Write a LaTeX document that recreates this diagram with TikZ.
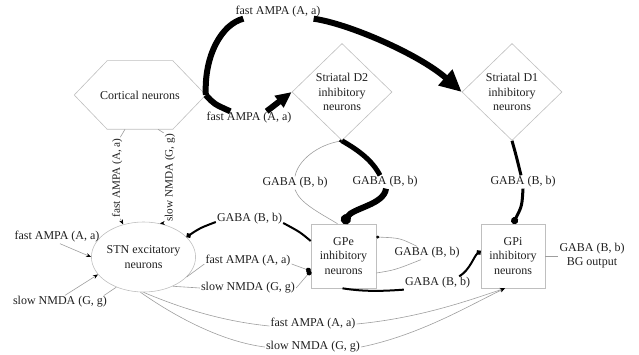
\documentclass[tikz,border=0pt]{standalone}
\usepackage{fontspec}
\setmainfont{Liberation Serif}
\usetikzlibrary{arrows.meta,shapes.geometric}
\definecolor{boxGray}{gray}{0.75}
\definecolor{lineGray}{gray}{0.62}
\definecolor{textGray}{gray}{0.12}
\tikzset{
	unit/.style={draw=boxGray, line width=0.6pt, text=textGray, align=center, inner sep=0pt, font=\fontsize{12}{14.5}\selectfont},
	lbl/.style={text=textGray, inner sep=1pt, align=center, font=\fontsize{12}{14}\selectfont},
	sidelbl/.style={lbl, rotate=90, font=\fontsize{11.2}{13}\selectfont},
	thinline/.style={draw=lineGray, line width=0.6pt},
	heavy/.style={line width=6pt},
	medium/.style={line width=2pt},
	exc/.style={-{Stealth[length=5pt,width=4pt,color=black]}},
	inh/.style={-{Circle[length=#1,color=black]}},
	inh/.default=4pt
}

\begin{document}
\begin{tikzpicture}[x=1pt,y=-1pt]
	\useasboundingbox (0,0) rectangle (639,355);

	% Populations
	\node[unit, draw=none, minimum width=131pt, minimum height=68pt] (ctx) at (140,95) {Cortical neurons};
	\draw[draw=boxGray, line width=0.6pt] (ctx.west) -- ([xshift=33pt]ctx.north west) -- ([xshift=-33pt]ctx.north east) -- (ctx.east) -- ([xshift=-33pt]ctx.south east) -- ([xshift=33pt]ctx.south west) -- cycle;
	\node[unit, diamond, minimum width=100pt, minimum height=97pt] (dtwo) at (342,92) {Striatal D2\\inhibitory\\neurons};
	\node[unit, diamond, minimum width=100pt, minimum height=97pt] (done) at (512,92) {Striatal D1\\inhibitory\\neurons};
	\node[unit, ellipse, minimum width=97pt, minimum height=70pt] (stn) at (143.5,257) {STN excitatory\\neurons};
	\node[unit, minimum width=65pt, minimum height=64pt] (gpe) at (343.5,256) {GPe\\inhibitory\\neurons};
	\node[unit, minimum width=64pt, minimum height=64pt] (gpi) at (513,256) {GPi\\inhibitory\\neurons};

	% Synapse labels
	\node[lbl] (ampaTop) at (278,12) {fast AMPA (A, a)};
	\node[lbl] (ampaMid) at (249,118) {fast AMPA (A, a)};
	\node[sidelbl] (ampaCtx) at (117,178) {fast AMPA (A, a)};
	\node[sidelbl] (nmdaCtx) at (170,178) {slow NMDA (G, g)};
	\node[lbl] (gabaDtwo) at (385,182) {GABA (B, b)};
	\node[lbl] (gabaBack) at (295,183) {GABA (B, b)};
	\node[lbl] (gabaDone) at (523,182) {GABA (B, b)};
	\node[lbl] (gabaStn) at (249.5,219) {GABA (B, b)};
	\node[lbl] (ampaGpe) at (248,261) {fast AMPA (A, a)};
	\node[lbl] (nmdaGpe) at (248,288) {slow NMDA (G, g)};
	\node[lbl] (gabaSelf) at (427,253) {GABA (B, b)};
	\node[lbl] (gabaGpi) at (437.5,283) {GABA (B, b)};
	\node[lbl] (ampaGpi) at (313,324) {fast AMPA (A, a)};
	\node[lbl] (nmdaGpi) at (313,347) {slow NMDA (G, g)};
	\node[lbl] (ampaIn) at (57,237) {fast AMPA (A, a)};
	\node[lbl] (nmdaIn) at (60,302) {slow NMDA (G, g)};
	\node[lbl] (gabaOut) at (592,256) {GABA (B, b)\\BG output};

	% Cortex to striatum
	\draw[heavy] (ctx.east) .. controls (204,55) and (222,24) .. ([xshift=9pt]ampaTop.south west);
	\draw[heavy, -{Triangle[length=22pt,width=20pt]}] ([xshift=-8pt]ampaTop.south east) .. controls (350,24) and (420,55) .. (done.west);
	\draw[heavy] (ctx.east) .. controls (214,104) .. ([xshift=25pt]ampaMid.north west);
	\draw[heavy, -{Triangle[length=16pt,width=14pt]}] ([xshift=-26pt]ampaMid.north east) -- (dtwo.west);

	% Cortex to STN
	\draw[thinline] ([xshift=-15pt]ctx.south) -- ([xshift=-3pt]ampaCtx.south east);
	\draw[thinline, exc] ([xshift=-3pt]ampaCtx.south west) -- (stn.122);
	\draw[thinline] ([xshift=18pt]ctx.south) -- (nmdaCtx.north east);
	\draw[thinline, exc] (nmdaCtx.north west) -- (stn.64);

	% Striatum to pallidum
	\draw[line width=5pt] (dtwo.south) .. controls (358,150) and (372,160) .. ([xshift=-5pt]gabaDtwo.north);
	\draw[heavy, inh=10pt] ([xshift=1pt]gabaDtwo.south) .. controls (384,205) and (352,208) .. (gpe.north);
	\draw[thinline] ([xshift=-6pt]gpe.north) .. controls (318,212) and (300,203) .. (gabaBack.south);
	\draw[thinline, inh=3pt] (gabaBack.north) .. controls (298,160) and (318,145) .. (dtwo.south);
	\draw[line width=3pt] (done.south) .. controls (516,155) .. ([xshift=-2pt]gabaDone.north);
	\draw[line width=3pt, inh=7pt] (gabaDone.south) .. controls (522,206) .. (gpi.north);

	% STN and GPe
	\draw[medium] ([yshift=15pt]gpe.west) .. controls (300,232) .. ([yshift=-4pt]gabaStn.east);
	\draw[medium, inh=5pt] ([yshift=-3pt]gabaStn.west) .. controls (200,228) .. (stn.25);
	\draw[thinline] (stn.-25) -- ([yshift=-3pt]ampaGpe.west);
	\draw[thinline, inh=5pt] ([yshift=-3pt]ampaGpe.east) -- ([yshift=-15pt]gpe.west);
	\draw[thinline] (stn.-45) -- (nmdaGpe.west);
	\draw[thinline, inh=5pt] (nmdaGpe.east) -- ([yshift=-15pt]gpe.west);
	\draw[thinline] ([yshift=-17pt]gpe.east) .. controls (395,270) .. ([xshift=-6pt]gabaSelf.south);
	\draw[thinline, inh=3pt] ([xshift=-10pt]gabaSelf.north) .. controls (400,238) .. ([yshift=19pt]gpe.east);

	% Towards GPi
	\draw[medium] ([xshift=-1pt]gpe.south) .. controls (365,292) and (385,291) .. (gabaGpi.south west);
	\draw[medium, inh=5pt] ([xshift=-12pt]gabaGpi.north east) .. controls (470,270) and (474,256) .. ([yshift=5pt]gpi.west);
	\draw[thinline] (stn.-90) .. controls (190,312) and (230,322) .. ([yshift=-2pt]ampaGpi.west);
	\draw[thinline, exc] (ampaGpi.east) .. controls (420,318) and (470,300) .. ([xshift=-8pt]gpi.south);
	\draw[thinline] (stn.-95) .. controls (180,320) and (225,342) .. (nmdaGpi.west);
	\draw[thinline, exc] (nmdaGpi.east) .. controls (420,335) and (470,305) .. ([xshift=-8pt]gpi.south);

	% External inputs and output
	\draw[thinline, exc] ([xshift=3pt]ampaIn.south) -- (stn.west);
	\draw[thinline, exc] ([xshift=5pt]nmdaIn.north) -- (stn.201);
	\draw[thinline] ([xshift=-4pt]nmdaIn.north east) -- (stn.228);
	\draw[thinline] (gpi.east) -- (gabaOut.west);
\end{tikzpicture}
\end{document}
